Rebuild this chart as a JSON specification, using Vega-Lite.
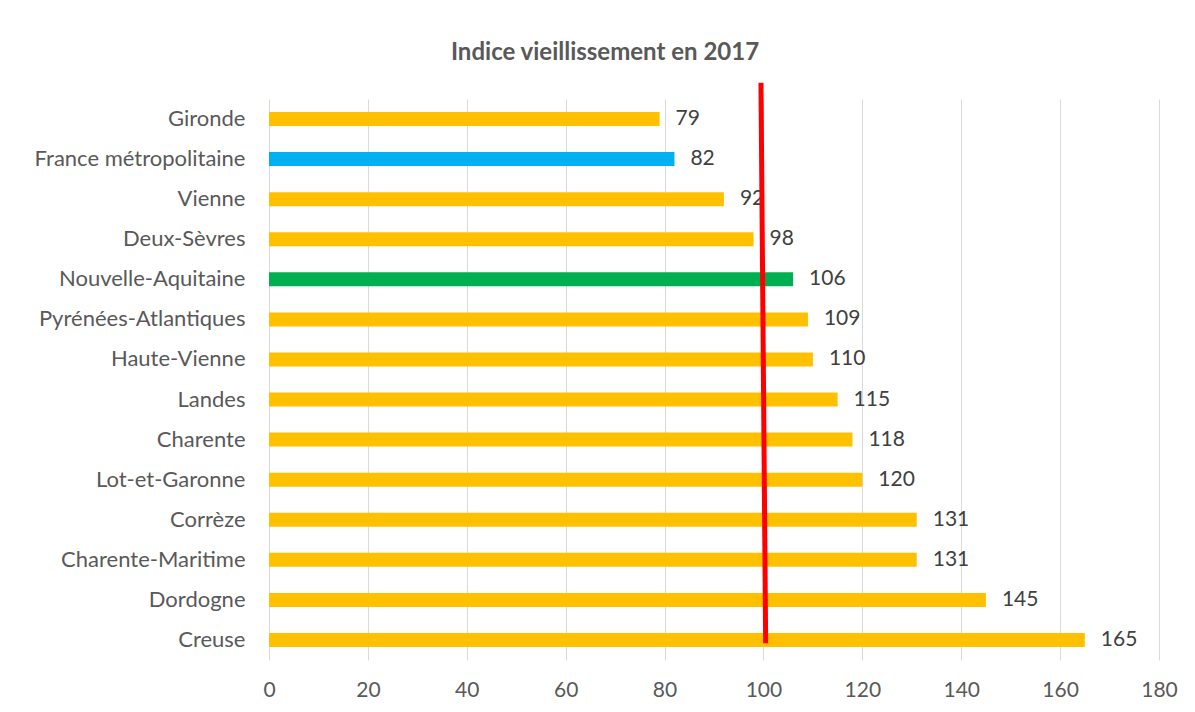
{
  "$schema": "https://vega.github.io/schema/vega-lite/v6.json",
  "width": 890,
  "height": 561,
  "autosize": {"type": "none"},
  "padding": {"left": 269, "top": 99, "right": 36, "bottom": 52},
  "background": "white",
  "config": {
    "view": {"stroke": null},
    "font": "Lato"
  },
  "title": {
    "text": "Indice vieillissement en 2017",
    "fontSize": 24,
    "fontWeight": "bold",
    "color": "#595959",
    "font": "Lato",
    "anchor": "middle",
    "dx": -109,
    "offset": 15
  },
  "datasets": {
    "bars": [
      {"zone": "Gironde", "indice": 79, "type": "dep"},
      {"zone": "France métropolitaine", "indice": 82, "type": "france"},
      {"zone": "Vienne", "indice": 92, "type": "dep"},
      {"zone": "Deux-Sèvres", "indice": 98, "type": "dep"},
      {"zone": "Nouvelle-Aquitaine", "indice": 106, "type": "region"},
      {"zone": "Pyrénées-Atlantiques", "indice": 109, "type": "dep"},
      {"zone": "Haute-Vienne", "indice": 110, "type": "dep"},
      {"zone": "Landes", "indice": 115, "type": "dep"},
      {"zone": "Charente", "indice": 118, "type": "dep"},
      {"zone": "Lot-et-Garonne", "indice": 120, "type": "dep"},
      {"zone": "Corrèze", "indice": 131, "type": "dep"},
      {"zone": "Charente-Maritime", "indice": 131, "type": "dep"},
      {"zone": "Dordogne", "indice": 145, "type": "dep"},
      {"zone": "Creuse", "indice": 165, "type": "dep"}
    ],
    "ref": [
      {"x": 99.5, "x2": 100.45, "y": 1.029, "y2": 0.03}
    ]
  },
  "layer": [
    {
      "data": {"name": "bars"},
      "encoding": {
        "y": {
          "field": "zone", "type": "nominal", "sort": null,
          "scale": {"paddingInner": 0.65, "paddingOuter": 0.325},
          "axis": {"title": null, "domain": false, "ticks": false, "labelFontSize": 22, "labelColor": "#595959", "labelPadding": 24, "labelLimit": 260, "labelFont": "Lato"}
        },
        "x": {
          "field": "indice", "type": "quantitative",
          "scale": {"domain": [0, 180], "nice": false},
          "axis": {"title": null, "values": [0,20,40,60,80,100,120,140,160,180], "domain": false, "ticks": false, "grid": true, "gridColor": "#D9D9D9", "gridWidth": 1, "labelFlush": false, "labelFontSize": 21, "labelColor": "#595959", "labelPadding": 19, "labelFont": "Lato"}
        }
      },
      "layer": [
        {
          "mark": {"type": "bar"},
          "encoding": {
            "color": {
              "field": "type", "type": "nominal",
              "scale": {"domain": ["dep", "france", "region"], "range": ["#FFC000", "#00B0F0", "#00B050"]},
              "legend": null
            }
          }
        },
        {
          "mark": {"type": "text", "align": "left", "baseline": "middle", "dx": 16, "fontSize": 21, "color": "#404040", "font": "Lato"},
          "encoding": {
            "text": {"field": "indice", "type": "quantitative"}
          }
        }
      ]
    },
    {
      "data": {"name": "ref"},
      "mark": {"type": "rule", "color": "#FF0000", "strokeWidth": 5},
      "encoding": {
        "x": {"field": "x", "type": "quantitative"},
        "x2": {"field": "x2"},
        "y": {"field": "y", "type": "quantitative", "scale": {"domain": [0, 1], "nice": false}, "axis": null},
        "y2": {"field": "y2"}
      }
    }
  ],
  "resolve": {"scale": {"y": "independent"}}
}
